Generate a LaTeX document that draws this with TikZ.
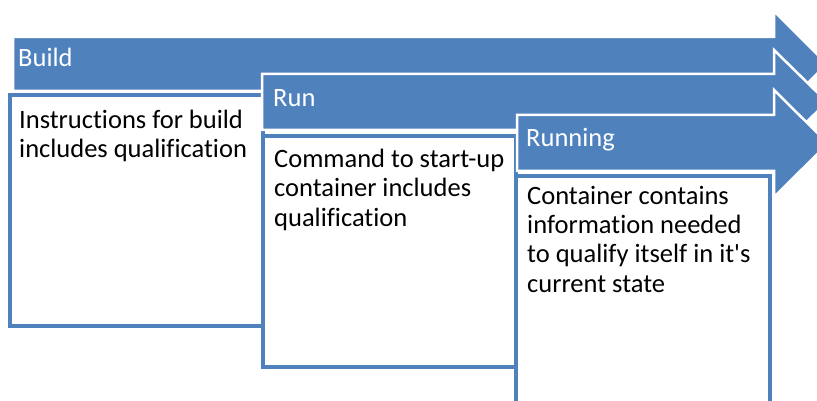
\documentclass[tikz,border=0pt]{standalone}
\usepackage{fontspec}
\setmainfont{Carlito}[Ligatures={TeXOff,CommonOff}]
\definecolor{accent}{HTML}{4F81BD}
\begin{document}
\begin{tikzpicture}[x=1pt,y=-1pt,
  arrowshape/.style={fill=accent, draw=white, line width=2.5pt, line join=miter},
  boxframe/.style={draw=accent, line width=4pt, fill=white},
  bodytext/.style={anchor=base west, inner sep=0pt, align=left,
    font=\fontsize{26.5}{29.3}\selectfont, text=black},
  headtext/.style={anchor=base west, inner sep=0pt,
    font=\fontsize{26.5}{29.3}\selectfont, text=white}]
\useasboundingbox (0,0) rectangle (817,401);
% arrow 1
\draw[arrowshape] (13,37) -- (774,37) -- (774,11) -- (827,64) -- (774,117) -- (774,91) -- (13,91) -- cycle;
\node[headtext] (build) at (18,67) {Build};
\draw[boxframe] (10,95) rectangle (262.5,325.5);
% anchor base = baseline of the last line
\node[bodytext] (t1) at (19,158) {Instructions for build\\includes qualification};
% arrow 2
\draw[arrowshape] (262,74) -- (774,74) -- (774,50) -- (827,102) -- (774,154) -- (774,130) -- (262,130) -- cycle;
\node[headtext] (run) at (273,107) {Run};
\draw[boxframe] (263,136.5) rectangle (515.5,367);
\node[bodytext] (t2) at (274,226) {Command to start-up\\container includes\\qualification};
% arrow 3
\draw[arrowshape] (517,115) -- (774,115) -- (774,90) -- (828,143.5) -- (774,197) -- (774,171) -- (517,171) -- cycle;
\node[headtext] (running) at (526,147) {Running};
\draw[boxframe] (515.5,176.5) rectangle (769.5,404);
\node[bodytext] (t3) at (527,292) {Container contains\\information needed\\to qualify itself in it's\\current state};
\end{tikzpicture}
\end{document}
